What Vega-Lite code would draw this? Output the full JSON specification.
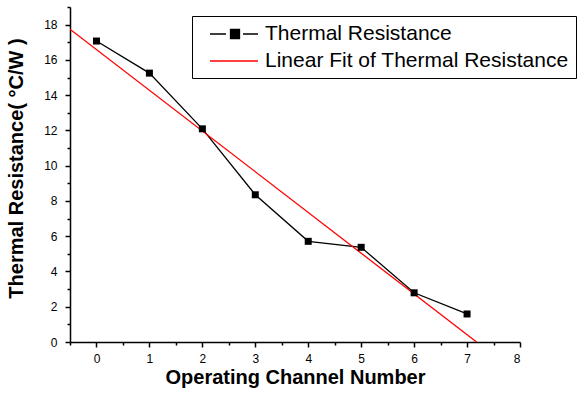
{
  "$schema": "https://vega.github.io/schema/vega-lite/v6.json",
  "width": 450,
  "height": 335,
  "autosize": {"type": "none"},
  "padding": {"left": 70, "top": 7, "right": 62, "bottom": 57},
  "background": "white",
  "config": {
    "view": {"stroke": null},
    "font": "Liberation Sans",
    "axis": {
      "domainColor": "black",
      "domainWidth": 1.5,
      "tickColor": "black",
      "tickWidth": 1.5,
      "grid": false,
      "labelFont": "Liberation Sans",
      "labelFontSize": 12,
      "labelColor": "black",
      "titleFont": "Liberation Sans",
      "titleFontSize": 20,
      "titleFontWeight": "bold",
      "titleColor": "black"
    }
  },
  "data": {
    "values": [
      {"x": 0, "y": 17.07, "series": "Thermal Resistance"},
      {"x": 1, "y": 15.25, "series": "Thermal Resistance"},
      {"x": 2, "y": 12.09, "series": "Thermal Resistance"},
      {"x": 3, "y": 8.35, "series": "Thermal Resistance"},
      {"x": 4, "y": 5.71, "series": "Thermal Resistance"},
      {"x": 5, "y": 5.37, "series": "Thermal Resistance"},
      {"x": 6, "y": 2.79, "series": "Thermal Resistance"},
      {"x": 7, "y": 1.59, "series": "Thermal Resistance"},
      {"x": -0.5, "y": 17.74, "series": "Linear Fit of Thermal Resistance"},
      {"x": 7.18, "y": 0, "series": "Linear Fit of Thermal Resistance"}
    ]
  },
  "encoding": {
    "x": {
      "field": "x",
      "type": "quantitative",
      "scale": {"domain": [-0.5, 8], "nice": false, "zero": false},
      "axis": {
        "title": "Operating Channel Number",
        "values": [-0.5, 0, 0.5, 1, 1.5, 2, 2.5, 3, 3.5, 4, 4.5, 5, 5.5, 6, 6.5, 7, 7.5, 8],
        "labelExpr": "datum.value % 1 === 0 ? format(datum.value, 'd') : ''",
        "labelOverlap": false,
        "tickSize": {"condition": {"test": "datum.value % 1 !== 0", "value": 3}, "value": 5},
        "labelPadding": 6,
        "titleX": 225,
        "titleY": 41,
        "titleBaseline": "alphabetic",
        "titleAnchor": "middle"
      }
    },
    "y": {
      "field": "y",
      "type": "quantitative",
      "scale": {"domain": [0, 19], "nice": false},
      "axis": {
        "title": "Thermal Resistance( °C/W )",
        "values": [0, 1, 2, 3, 4, 5, 6, 7, 8, 9, 10, 11, 12, 13, 14, 15, 16, 17, 18, 19],
        "labelExpr": "datum.value % 2 === 0 ? format(datum.value, 'd') : ''",
        "labelOverlap": false,
        "tickSize": {"condition": {"test": "datum.value % 2 !== 0", "value": 3}, "value": 5},
        "labelPadding": 8,
        "titleX": -48,
        "titleY": 161,
        "titleBaseline": "alphabetic",
        "titleAngle": -90,
        "titleAnchor": "middle"
      }
    }
  },
  "layer": [
    {
      "mark": {"type": "line", "strokeWidth": 1.3, "clip": true},
      "encoding": {
        "color": {
          "field": "series",
          "type": "nominal",
          "sort": null,
          "scale": {
            "domain": ["Thermal Resistance", "Linear Fit of Thermal Resistance"],
            "range": ["black", "red"]
          },
          "legend": {
            "title": null,
            "orient": "none",
            "legendX": 122,
            "legendY": 9,
            "padding": 7,
            "strokeColor": "black",
            "fillColor": "white",
            "cornerRadius": 0,
            "labelFont": "Liberation Sans",
            "labelFontSize": 21,
            "labelColor": "black",
            "labelLimit": 0,
            "labelOffset": 44,
            "symbolSize": 400,
            "rowPadding": 6,
            "labelBaseline": "middle",
            "encode": {
              "symbols": {
                "update": {
                  "shape": {"signal": "datum.value === 'Thermal Resistance' ? 'M0,0H1.6M3.3,0H4.8M2.05,-0.45H2.95V0.45H2.05Z' : 'M0,0H4.8'"},
                  "fill": {"signal": "datum.value === 'Thermal Resistance' ? 'black' : 'transparent'"},
                  "stroke": {"signal": "datum.value === 'Thermal Resistance' ? 'black' : 'red'"},
                  "strokeWidth": {"value": 1.3},
                  "opacity": {"value": 1}
                }
              }
            }
          }
        }
      }
    },
    {
      "transform": [{"filter": "datum.series === 'Thermal Resistance'"}],
      "mark": {"type": "point", "shape": "square", "filled": true, "size": 49, "color": "black", "opacity": 1}
    }
  ]
}
